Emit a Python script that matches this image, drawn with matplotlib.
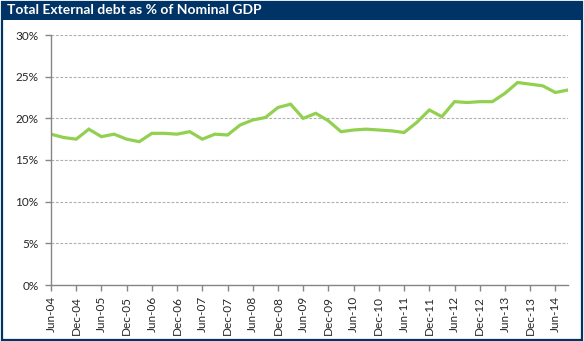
import matplotlib
matplotlib.use("Agg")
import matplotlib.pyplot as plt
from matplotlib.patches import Rectangle
from matplotlib.ticker import FuncFormatter, FixedLocator

# Quarterly series, Jun-04 .. Sep-14
quarters = [
    "Jun-04", "Sep-04", "Dec-04", "Mar-05", "Jun-05", "Sep-05", "Dec-05", "Mar-06",
    "Jun-06", "Sep-06", "Dec-06", "Mar-07", "Jun-07", "Sep-07", "Dec-07", "Mar-08",
    "Jun-08", "Sep-08", "Dec-08", "Mar-09", "Jun-09", "Sep-09", "Dec-09", "Mar-10",
    "Jun-10", "Sep-10", "Dec-10", "Mar-11", "Jun-11", "Sep-11", "Dec-11", "Mar-12",
    "Jun-12", "Sep-12", "Dec-12", "Mar-13", "Jun-13", "Sep-13", "Dec-13", "Mar-14",
    "Jun-14", "Sep-14",
]
debt_pct_gdp = [
    18.1, 17.7, 17.5, 18.7, 17.8, 18.1, 17.5, 17.2,
    18.2, 18.2, 18.1, 18.4, 17.5, 18.1, 18.0, 19.2,
    19.8, 20.1, 21.3, 21.7, 20.0, 20.6, 19.7, 18.4,
    18.6, 18.7, 18.6, 18.5, 18.3, 19.5, 21.0, 20.2,
    22.0, 21.9, 22.0, 22.0, 23.0, 24.3, 24.1, 23.9,
    23.1, 23.4,
]
title = "Total External debt as % of Nominal GDP"
y_ticks = [0, 5, 10, 15, 20, 25, 30]

W, H = 584, 341
navy = "#003366"
fig = plt.figure(figsize=(W / 100, H / 100), dpi=100)
fig.patch.set_facecolor("white")

# Outer frame and title band
fig.add_artist(Rectangle((1.5 / W, 1.5 / H), (W - 3.5) / W, (H - 3) / H,
                         transform=fig.transFigure, fill=False,
                         edgecolor=navy, linewidth=1.6, zorder=0))
fig.add_artist(Rectangle((1 / W, (H - 20) / H), (W - 2) / W, 19 / H,
                         transform=fig.transFigure, facecolor=navy,
                         edgecolor="none", zorder=1))
fig.text(7 / W, (H - 10.5) / H, title, color="white", fontsize=10,
         fontweight="bold", family="Lato", va="center", ha="left")

ax = fig.add_axes([51 / W, 56 / H, (568 - 51) / W, (285 - 35) / H])
x = list(range(len(quarters)))
ax.plot(x, debt_pct_gdp, color="#92D050", linewidth=2.3, solid_joinstyle="miter")

ax.set_xlim(0, len(quarters) - 1)
ax.set_ylim(0, 30)
ax.yaxis.set_major_locator(FixedLocator(y_ticks))
ax.yaxis.set_major_formatter(FuncFormatter(lambda v, p: f"{v:.0f}%"))
tick_idx = list(range(0, len(quarters), 2))
ax.set_xticks(tick_idx)
ax.set_xticklabels([quarters[i] for i in tick_idx], rotation=90)

ax.grid(axis="y", color="#b0b0b0", linestyle=(0, (2.5, 1.5)), linewidth=0.8)
ax.set_axisbelow(True)
for s in ("top", "right"):
    ax.spines[s].set_visible(False)
for s in ("left", "bottom"):
    ax.spines[s].set_color("#868686")
    ax.spines[s].set_linewidth(1.0)
ax.tick_params(axis="both", color="#868686", length=4, width=1.0,
               labelcolor="#262626", labelsize=8.5)
ax.tick_params(axis="y", pad=5)
ax.tick_params(axis="x", pad=4)
for lbl in ax.get_xticklabels() + ax.get_yticklabels():
    lbl.set_family("Lato")

fig.savefig("out.png", dpi=100)
